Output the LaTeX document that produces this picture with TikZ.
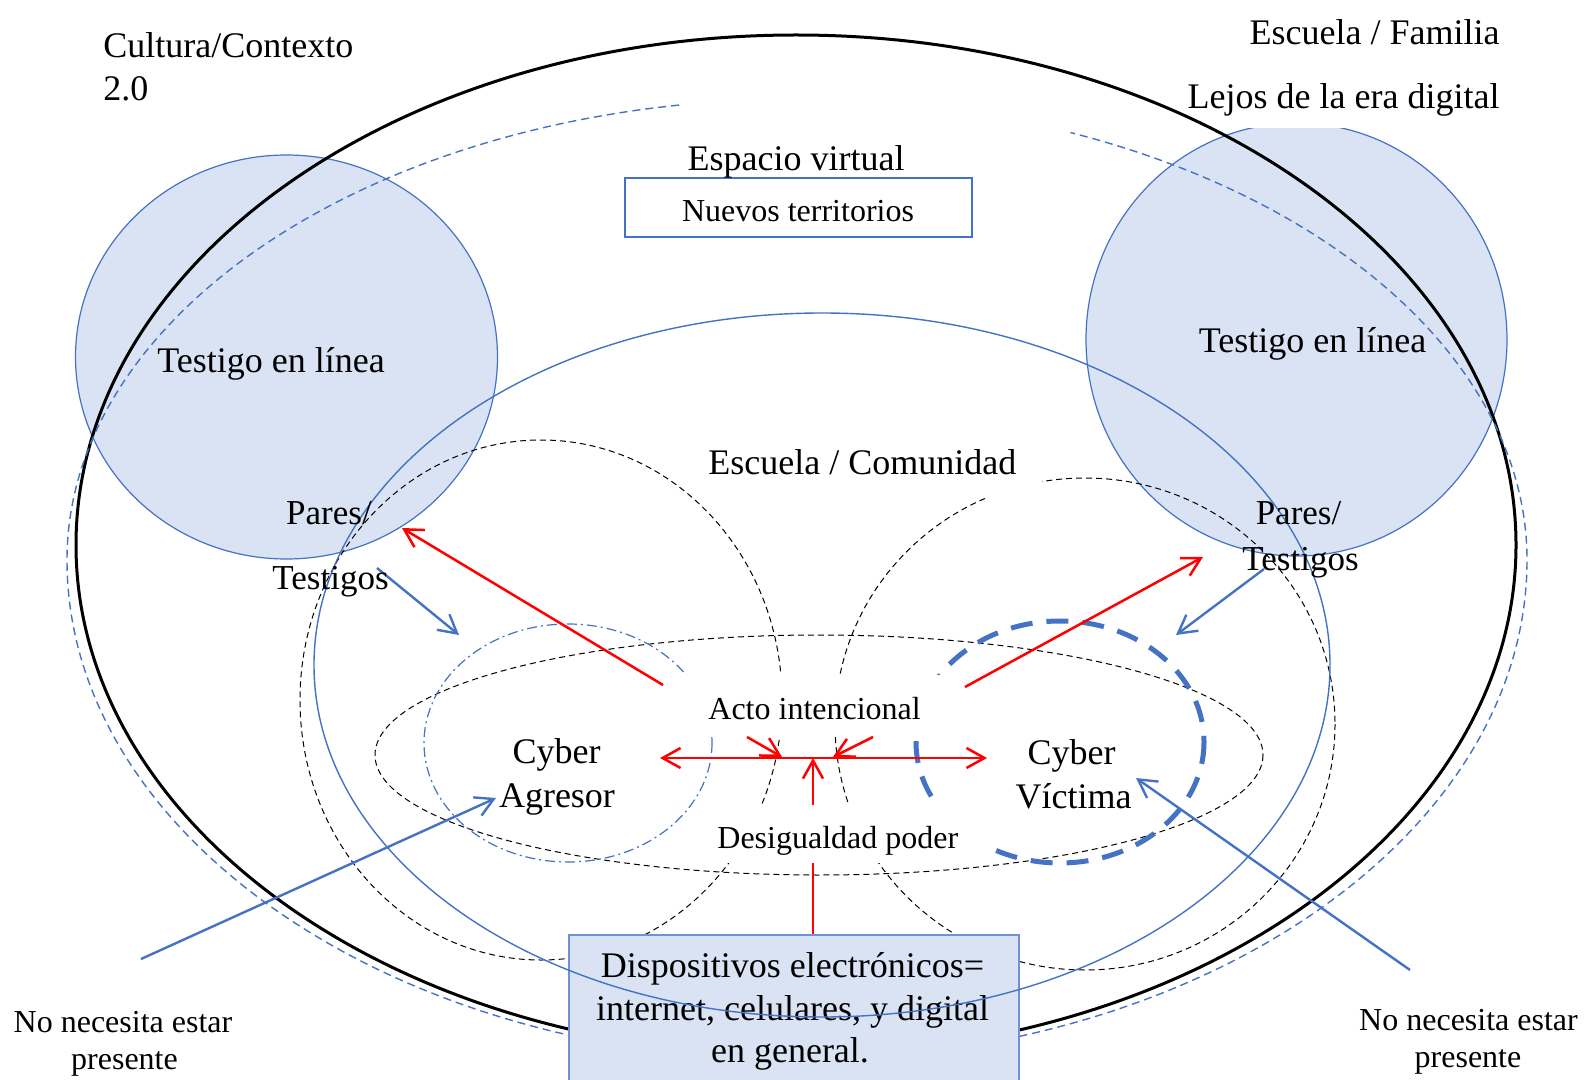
\documentclass[tikz,border=0pt]{standalone}
\usepackage{fontspec}
\setmainfont{Liberation Serif}
\usetikzlibrary{arrows.meta,calc}
\definecolor{bl}{HTML}{4472C4}
\definecolor{lbfill}{HTML}{DAE3F3}
\definecolor{boxedge}{RGB}{112,146,212}
\definecolor{rd}{HTML}{FF0000}
\newcommand\fsA{\fontsize{18}{21.5}\selectfont}
\newcommand\fsB{\fontsize{16}{19}\selectfont}
\newcommand\fsC{\fontsize{17.5}{21}\selectfont}
\begin{document}
\begin{tikzpicture}[x=0.5pt,y=-0.5pt,
  tA/.style={font=\fsA, inner sep=0pt},
  tB/.style={font=\fsB, inner sep=0pt},
  tC/.style={font=\fsC, inner sep=0pt},
  witness/.style={fill=lbfill, draw=bl, line width=0.6pt},
  blkdash/.style={draw=black, line width=0.5pt, dash pattern=on 3pt off 2pt},
  bluedash/.style={draw=bl, line width=0.7pt, dash pattern=on 4pt off 2.5pt},
  bluedashdot/.style={draw=bl, line width=0.6pt, dash pattern=on 5pt off 2pt on 1pt off 2pt},
  thickdash/.style={draw=bl, line width=2.5pt, dash pattern=on 11pt off 7pt},
  redarrow/.style={draw=rd, line width=1.25pt, -{Straight Barb[length=9pt,width=10pt]}},
  bluearrow/.style={draw=bl, line width=1.2pt, -{Straight Barb[length=9pt,width=10pt]}},
  mask/.style={fill=white}
]
\fill[white] (0,0) rectangle (1584,1080);
\useasboundingbox (0,0) rectangle (1584,1080);
\clip (0,0) rectangle (1584,1080);

% witness circles
\path[witness] (286.5,357) ellipse [x radius=211, y radius=202];
\path[witness] (1296.5,339.5) ellipse [x radius=210.5, y radius=216.5];
\fill[mask] (1181,66) rectangle (1512,128);

% outer black ellipse
\draw[line width=1.5pt] (796,545) ellipse [x radius=720, y radius=510];

% blue dashed arc
\draw[bluedash] ($(797,560)+(-99.3:730 and 461)$)
  arc[start angle=-99.3, end angle=-180, x radius=730, y radius=461]
  arc[start angle=180, end angle=0, x radius=730, y radius=500]
  arc[start angle=0, end angle=-68, x radius=730, y radius=461];

% black dashed shapes
\draw[blkdash] (541,700) ellipse [x radius=241, y radius=260];
\draw[blkdash] (1085,724) ellipse [x radius=250, y radius=246];
\draw[blkdash] (819,755) ellipse [x radius=444, y radius=120];

% aggressor / victim circles
\draw[bluedashdot] (568,743) ellipse [x radius=144, y radius=119];
\draw[thickdash] (1060,742) ellipse [x radius=144, y radius=121];

% red vertical arrow from devices box
\coordinate (v0) at (813,934);
\coordinate (v1) at (813,758);
\draw[redarrow] (v0) -- (v1);

% masks behind labels
\fill[mask] (700,440) rectangle (1042,498);
\fill[mask] (684,675) rectangle (948,737);
\fill[mask] (705,805) rectangle (985,863);

% red arrows
\coordinate (rL0) at (663,685); \coordinate (rL1) at (402,528);
\coordinate (rR0) at (965,687); \coordinate (rR1) at (1203,557);
\coordinate (hL) at (660,758); \coordinate (hR) at (987,758);
\coordinate (sL0) at (747,737); \coordinate (sL1) at (782,757);
\coordinate (sR0) at (873,737); \coordinate (sR1) at (833,757);
\draw[redarrow] (rL0) -- (rL1);
\draw[redarrow] (rR0) -- (rR1);
\draw[redarrow, {Straight Barb[length=9pt,width=10pt]}-{Straight Barb[length=9pt,width=10pt]}] (hL) -- (hR);
\draw[redarrow] (sL0) -- (sL1);
\draw[redarrow] (sR0) -- (sR1);

% devices box
\node[fill=lbfill, draw=boxedge, line width=0.8pt, minimum width=225pt, minimum height=82pt, anchor=north west, inner sep=0pt] (disp) at (568,934) {};
\node[tA, anchor=base] (disp1) at (792.5,977) {Dispositivos electrónicos=};
\node[tA, anchor=base] (disp2) at (792.5,1020) {internet, celulares, y digital};
\node[tA, anchor=base] (disp3) at (790,1062) {en general.};

% blue solid ellipse
\draw[bl, line width=0.7pt] (822,665) ellipse [x radius=508, y radius=352];

% blue arrows
\coordinate (b1a) at (377,568); \coordinate (b1b) at (459,635);
\coordinate (b2a) at (1264,569); \coordinate (b2b) at (1176,635);
\coordinate (b3a) at (141,959); \coordinate (b3b) at (496,798);
\coordinate (b4a) at (1410,970); \coordinate (b4b) at (1136,778);
\draw[bluearrow] (b1a) -- (b1b);
\draw[bluearrow] (b2a) -- (b2b);
\draw[bluearrow] (b3a) -- (b3b);
\draw[bluearrow] (b4a) -- (b4b);

% virtual space box
\node[draw=bl, line width=0.8pt, fill=white, minimum width=173.5pt, minimum height=29.5pt, inner sep=0pt] (nuevos) at (798.5,207.5) {};
\node[tB, anchor=base] (nuevost) at (798,222) {Nuevos territorios};

% texts
\node[tA, anchor=base west] (cult1) at (103,58) {Cultura/Contexto};
\node[tA, anchor=base west] (cult2) at (103,101) {2.0};
\node[tA, anchor=base east] (fam) at (1500,45) {Escuela / Familia};
\node[tA, anchor=base east] (lejos) at (1500,109) {Lejos de la era digital};
\node[tA, anchor=base] (espacio) at (796,171) {Espacio virtual};
\node[tA, anchor=base] (testL) at (271,372) {Testigo en línea};
\node[tA, anchor=base] (testR) at (1312.5,353) {Testigo en línea};
\node[tA, anchor=base west] (escom) at (708,474) {Escuela / Comunidad};
\node[tC, anchor=base] (paresL1) at (329,524) {Pares/};
\node[tC, anchor=base] (paresL2) at (330.5,589) {Testigos};
\node[tC, anchor=base] (paresR1) at (1298.5,524) {Pares/};
\node[tC, anchor=base] (paresR2) at (1300.5,570) {Testigos};
\node[tB, anchor=base west] (acto) at (708,719) {Acto intencional};
\node[tB, anchor=base west] (desig) at (717,848) {Desigualdad poder};
\node[tA, anchor=base] (cyA1) at (556.5,763) {Cyber};
\node[tA, anchor=base] (cyA2) at (557,807) {Agresor};
\node[tA, anchor=base] (cyV1) at (1071.5,764) {Cyber};
\node[tA, anchor=base] (cyV2) at (1073.5,808) {Víctima};
\node[tB, anchor=base] (noL1) at (123,1032) {No necesita estar};
\node[tB, anchor=base] (noL2) at (124.5,1069) {presente};
\node[tB, anchor=base] (noR1) at (1468.5,1030) {No necesita estar};
\node[tB, anchor=base] (noR2) at (1468,1067) {presente};
\end{tikzpicture}
\end{document}
